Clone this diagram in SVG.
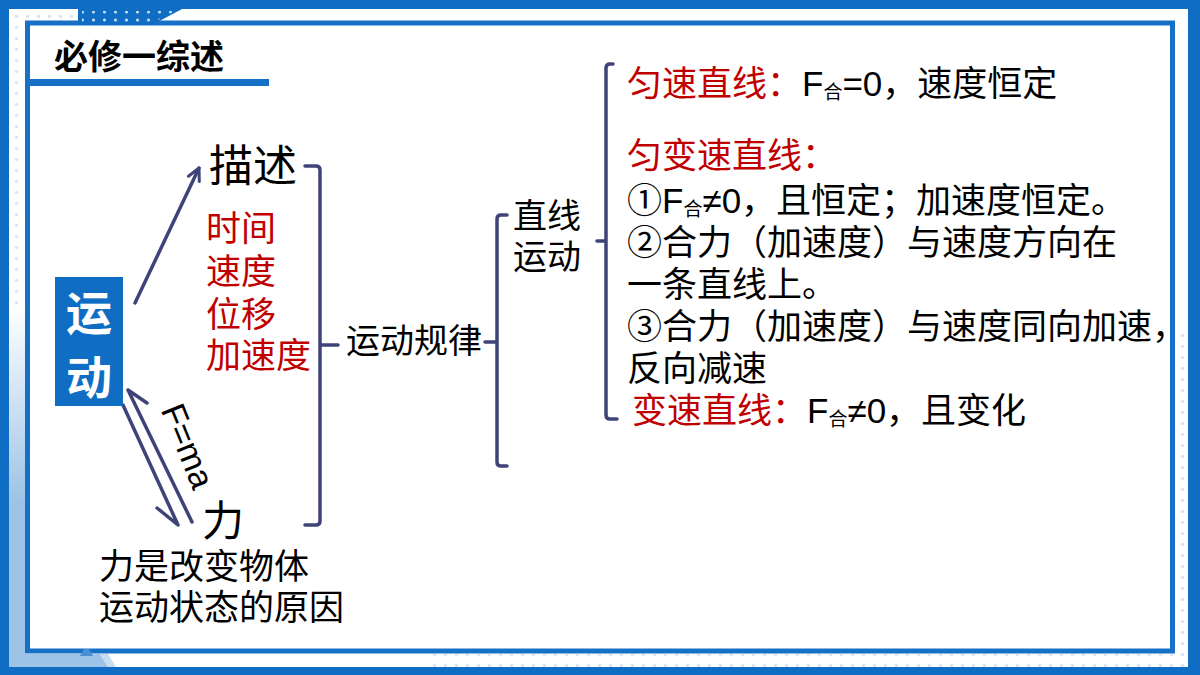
<svg xmlns="http://www.w3.org/2000/svg" width="1200" height="675" viewBox="0 0 1200 675">
<defs>
<style>
.cn{font-family:"Noto Sans CJK SC","Noto Sans",sans-serif;}
.lat{font-family:"Liberation Sans",Arial,"Noto Sans CJK SC",sans-serif;}
.red{fill:#c00000;}
.blk{fill:#000;}
.conn{stroke:#3f4478;stroke-width:3.5;fill:none;stroke-linecap:round;stroke-linejoin:round;}
.sub{font-size:19px;font-family:"Noto Sans CJK SC",sans-serif;}
</style>
<pattern id="dots" width="11" height="11" patternUnits="userSpaceOnUse"><circle cx="5.5" cy="5.5" r="1.8" fill="#dbe6f2"/></pattern>
<pattern id="wdots" width="11" height="8" patternUnits="userSpaceOnUse"><circle cx="5.5" cy="4" r="1.5" fill="#ffffff" opacity="0.8"/></pattern>
<linearGradient id="lg" x1="0" y1="0" x2="0" y2="1"><stop offset="0" stop-color="#ffffff"/><stop offset="0.45" stop-color="#ffffff"/><stop offset="0.75" stop-color="#9dc3e6"/><stop offset="1" stop-color="#9dc3e6"/></linearGradient>
<marker id="arr" viewBox="0 0 16 16" refX="14" refY="8" markerWidth="16" markerHeight="16" markerUnits="userSpaceOnUse" orient="auto"><path d="M2,2 L14,8 L2,14" fill="none" stroke="#3f4478" stroke-width="3" stroke-linejoin="round" stroke-linecap="round"/></marker>
</defs>

<g id="frame">
<rect x="0" y="0" width="1200" height="675" fill="#0f6ec3"/>
<rect x="9" y="9" width="1179" height="658" fill="#ffffff"/>
<rect x="9" y="9" width="16" height="658" fill="url(#lg)"/>
<rect x="9" y="9" width="16" height="300" fill="url(#dots)"/>
<rect x="9" y="9" width="69" height="13" fill="url(#dots)"/>
<rect x="1175" y="330" width="13" height="337" fill="url(#dots)"/>
<rect x="430" y="654" width="758" height="13" fill="url(#dots)"/>
<polygon points="9,654 100,654 108,667 9,667" fill="#9dc3e6"/>
<polygon points="100,654 108,654 116,667 108,667" fill="#c6ddf2"/>
<rect x="27.5" y="23" width="1145" height="628" fill="#ffffff" stroke="#1570c6" stroke-width="5"/>
<polygon points="78,9 182,9 152,25 78,25" fill="#0f6ec3"/>
<polygon points="82,11 176,11 152,23 82,23" fill="url(#wdots)"/>
<polygon points="80,656 84,649 89,649 93,656" fill="#4a8fd4"/>
</g>

<g id="title">
<text class="cn" x="54" y="69" font-size="34" font-weight="700" fill="#000">必修一综述</text>
<rect x="30" y="79" width="239" height="7" fill="#1570c6"/>
</g>

<g id="connectors">
<path class="conn" d="M135,303 L199,168" marker-end="url(#arr)" stroke-width="3"/>
<path class="conn" d="M128,390 L192,522 M128,390 L147,403" stroke-width="3"/>
<path class="conn" d="M123,405 L178,525 L157,508" stroke-width="3"/>
<path class="conn" d="M305,166 L316,166 Q320,166 320,170 L320,521 Q320,525 316,525 L305,525 M320,345 L338,345"/>
<path class="conn" d="M507,215 L501,215 Q497,215 497,219 L497,462 Q497,466 501,466 L507,466 M497,342 L485,342"/>
<path class="conn" d="M613,64 L610,64 Q606,64 606,68 L606,415 Q606,419 610,419 L617,419 M606,241 L597,241"/>
</g>

<g id="node-yundong">
<rect x="55" y="277" width="68" height="129" fill="#0f6ec3"/>
<text class="cn" x="89" y="330" font-size="46" font-weight="700" fill="#ffffff" text-anchor="middle">运</text>
<text class="cn" x="89" y="394" font-size="46" font-weight="700" fill="#ffffff" text-anchor="middle">动</text>
</g>

<g id="node-miaoshu">
<text class="cn blk" x="209" y="182" font-size="44">描述</text>
</g>

<g id="node-quantities">
<text class="cn red" x="206" y="241" font-size="35">时间</text>
<text class="cn red" x="206" y="284" font-size="35">速度</text>
<text class="cn red" x="206" y="327" font-size="35">位移</text>
<text class="cn red" x="206" y="368" font-size="35">加速度</text>
</g>

<g id="label-fma">
<text transform="translate(188,446) rotate(68)" font-family="'Liberation Sans',Arial,sans-serif" font-size="34" text-anchor="middle" y="12" fill="#000">F=ma</text>
</g>

<g id="node-li">
<text class="cn blk" x="202" y="536" font-size="42">力</text>
</g>

<g id="node-li-note">
<text class="cn blk" x="99" y="579" font-size="35">力是改变物体</text>
<text class="cn blk" x="99" y="620" font-size="35">运动状态的原因</text>
</g>

<g id="node-guilv">
<text class="cn blk" x="346" y="353" font-size="34">运动规律</text>
</g>

<g id="node-zhixian">
<text class="cn blk" x="513" y="228" font-size="34">直线</text>
<text class="cn blk" x="513" y="269" font-size="34">运动</text>
</g>

<g id="node-cases">
<text class="cn" x="627" y="96" font-size="35"><tspan class="red">匀速直线：</tspan><tspan class="blk lat">F</tspan><tspan class="blk sub" dy="3">合</tspan><tspan class="blk lat" dy="-3">=0</tspan><tspan class="blk">，速度恒定</tspan></text>
<text class="cn red" x="627" y="168" font-size="35">匀变速直线：</text>
<text class="cn blk" x="627" y="213" font-size="35">①<tspan class="lat">F</tspan><tspan class="sub" dy="3">合</tspan><tspan class="lat" dy="-3">≠0</tspan>，且恒定；加速度恒定。</text>
<text class="cn blk" x="627" y="255" font-size="35">②合力（加速度）与速度方向在</text>
<text class="cn blk" x="627" y="297" font-size="35">一条直线上。</text>
<text class="cn blk" x="627" y="339" font-size="35">③合力（加速度）与速度同向加速，</text>
<text class="cn blk" x="627" y="381" font-size="35">反向减速</text>
<text class="cn" x="632" y="423" font-size="35"><tspan class="red">变速直线：</tspan><tspan class="blk lat">F</tspan><tspan class="blk sub" dy="3">合</tspan><tspan class="blk lat" dy="-3">≠0</tspan><tspan class="blk">，且变化</tspan></text>
</g>
</svg>
